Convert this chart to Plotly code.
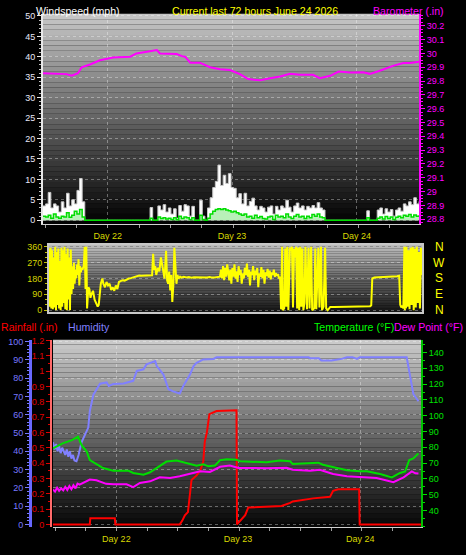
"""
72-hour weather station chart: wind + barometer, wind direction,
rainfall / humidity / temperature / dew point.
"""

import plotly.graph_objects as go

FONT = "Liberation Sans, Arial, sans-serif"
GRID = "rgba(255,255,255,0.35)"

# time axis is hours since start of the 72 h window
DAY_TICKS = [12.4, 36.2, 60.1]
DAY_LABELS = ["Day 22", "Day 23", "Day 24"]

# ---- top panel: windspeed (mph) + barometer (in) ----
WIND_HOURS = [i * 0.5 for i in range(145)]
WIND_GUST = [
    3.5, 4.0, 6.8, 3.0, 4.0, 3.5, 2.0, 4.5, 3.0, 6.6,
    3.5, 5.0, 4.0, 7.3, 10.2, 4.5, 0, 0, 0, 0,
    0, 0, 0, 0, 0, 0, 0, 0, 0, 0,
    0, 0, 0, 0, 0, 0, 0, 0, 0, 0,
    0, 3.1, 0, 0, 3.5, 2.5, 3.8, 2.0, 3.0, 1.5,
    2.8, 0.5, 3.6, 2.2, 3.8, 3.5, 1.0, 3.4, 0, 0,
    4.9, 1.0, 0, 3.0, 5.5, 8.0, 9.5, 13.5, 8.5, 11.0,
    9.0, 11.4, 8.0, 7.8, 5.5, 6.5, 4.0, 6.6, 3.5, 4.6,
    5.4, 3.5, 2.5, 3.4, 3.0, 2.0, 3.2, 3.5, 1.5, 3.4,
    2.5, 3.5, 3.0, 4.9, 3.2, 2.0, 3.5, 4.2, 3.0, 3.5,
    2.5, 3.4, 3.0, 3.6, 3.0, 4.3, 3.0, 2.5, 0, 0,
    0, 0, 0, 0, 0, 0, 0, 0, 0, 0,
    0, 0, 0, 0, 2.3, 0, 0, 0, 2.5, 3.0,
    1.5, 2.8, 2.0, 2.6, 1.0, 2.5, 3.0, 2.2, 4.0, 3.5,
    4.5, 3.8, 5.5, 4.0, 4.6,
]
WIND_AVG = [
    1.0, 0.8, 1.2, 0.5, 1.5, 0.8, 0.5, 1.0, 0.8, 1.8,
    0.7, 1.2, 2.2, 1.5, 2.6, 0.8, 0, 0, 0, 0,
    0, 0, 0, 0, 0, 0, 0, 0, 0, 0,
    0, 0, 0, 0, 0, 0, 0, 0, 0, 0,
    0, 0.5, 0, 0, 0.8, 0.4, 0.6, 0.3, 0.5, 0.2,
    0.6, 0.1, 1.0, 0.4, 0.8, 0.6, 0.2, 0.6, 0, 0,
    1.2, 0.2, 0, 0.5, 1.5, 2.2, 2.6, 2.8, 2.6, 2.8,
    2.5, 2.3, 2.0, 2.2, 1.8, 1.5, 1.2, 1.5, 0.8, 1.0,
    0.5, 1.2, 0.6, 0.9, 0.4, 0.3, 0.8, 1.0, 0.2, 1.2,
    0.8, 1.0, 0.6, 1.5, 0.8, 0.4, 1.0, 1.4, 0.8, 1.0,
    0.4, 1.0, 0.6, 1.4, 1.0, 1.5, 0.8, 0.6, 0, 0,
    0, 0, 0, 0, 0, 0, 0, 0, 0, 0,
    0, 0, 0, 0, 0.6, 0, 0, 0, 0.5, 0.8,
    0.3, 0.9, 0.4, 0.8, 0.2, 0.7, 1.0, 0.6, 1.2, 1.0,
    1.4, 0.8, 1.3, 1.0, 1.2,
]
BARO_HOURS = [
    0, 4.5, 5.5, 6.7, 7.4, 9, 10.9, 13.4, 16.7, 17.9,
    19.9, 21.8, 22.4, 25.6, 26.6, 27.2, 28.2, 30, 32, 33.9,
    35.8, 37.7, 39.3, 41.6, 43.5, 45.4, 47.3, 49.2, 51.7, 53,
    55, 56.6, 58.8, 61.3, 62.6, 64.5, 67, 69, 70.3, 72,
]
BARO = [
    29.857, 29.85, 29.838, 29.857, 29.9, 29.92, 29.95, 29.97, 29.976, 30.0,
    30.012, 30.024, 30.0, 29.995, 29.98, 29.976, 29.933, 29.933, 29.9, 29.886,
    29.88, 29.85, 29.814, 29.805, 29.82, 29.833, 29.852, 29.845, 29.845, 29.82,
    29.838, 29.869, 29.862, 29.864, 29.852, 29.874, 29.91, 29.93, 29.93, 29.94,
]
WIND_TICKS = [0, 5, 10, 15, 20, 25, 30, 35, 40, 45, 50]
BARO_TICKS = [28.8, 28.9, 29.0, 29.1, 29.2, 29.3, 29.4, 29.5, 29.6, 29.7,
              29.8, 29.9, 30.0, 30.1, 30.2]
BARO_TICK_TEXT = ["28.8", "28.9", "29", "29.1", "29.2", "29.3", "29.4", "29.5",
                  "29.6", "29.7", "29.8", "29.9", "30", "30.1", "30.2"]

# ---- middle panel: wind direction (deg) ----
WIND_DIR = [
    (0.0, 350), (0.15, 20), (0.3, 355), (0.45, 10), (0.6, 340), (0.75, 5),
    (0.9, 300), (1.05, 15), (1.2, 360), (1.35, 0), (1.5, 330), (1.65, 30),
    (1.8, 350), (1.95, 10), (2.1, 280), (2.25, 0), (2.4, 355), (2.55, 20),
    (2.7, 340), (2.85, 40), (3.0, 360), (3.15, 5), (3.3, 320), (3.45, 0),
    (3.6, 350), (3.75, 60), (3.9, 300), (4.05, 0), (4.2, 345), (4.35, 90),
    (4.5, 250), (4.65, 120), (4.8, 270), (4.95, 150), (5.1, 230), (5.25, 180),
    (5.4, 260), (5.55, 200), (5.7, 290), (5.85, 140), (6.0, 250), (6.15, 215),
    (6.3, 240), (6.45, 230), (6.7, 250), (6.9, 360), (7.05, 120), (7.2, 360),
    (7.35, 10), (7.6, 130), (7.8, 120), (8.0, 70), (8.2, 90), (8.5, 110),
    (8.8, 60), (9.1, 40), (9.4, 20), (9.6, 30), (9.8, 80), (10.0, 150),
    (10.3, 180), (10.5, 150), (10.8, 130), (11.1, 160), (11.4, 140),
    (11.7, 150), (12.0, 115), (12.3, 130), (12.6, 110), (12.9, 140),
    (13.2, 120), (13.5, 160), (13.8, 165), (14.2, 170), (14.6, 168),
    (15.0, 175), (15.4, 180), (15.8, 182), (16.2, 185), (16.6, 190),
    (17.0, 192), (17.4, 197), (17.8, 195), (18.5, 196), (19.2, 198),
    (19.9, 198), (20.1, 320), (20.3, 230), (20.5, 250), (20.7, 200),
    (21.0, 240), (21.3, 220), (21.6, 300), (21.9, 250), (22.1, 200),
    (22.3, 180), (22.6, 337), (22.8, 169), (23.0, 150), (23.2, 220),
    (23.4, 112), (23.6, 200), (23.8, 47), (24.0, 140), (24.2, 355),
    (24.4, 225), (24.6, 150), (24.8, 200), (25.0, 180), (25.3, 190),
    (25.5, 185), (26.0, 190), (26.5, 186), (27.0, 188), (27.5, 184),
    (28.0, 187), (28.5, 186), (29.0, 188), (29.5, 185), (30.0, 187),
    (30.5, 186), (31.0, 189), (31.5, 185), (32.0, 186), (32.5, 188),
    (33.0, 190), (33.2, 230), (33.4, 180), (33.6, 250), (33.8, 170),
    (34.0, 240), (34.2, 190), (34.4, 260), (34.6, 200), (34.8, 170),
    (35.0, 230), (35.2, 150), (35.4, 240), (35.6, 190), (35.8, 260),
    (36.0, 180), (36.2, 220), (36.4, 160), (36.6, 250), (36.8, 200),
    (37.0, 230), (37.2, 150), (37.4, 210), (37.6, 180), (37.8, 240),
    (38.0, 200), (38.2, 265), (38.4, 190), (38.6, 230), (38.8, 140),
    (39.0, 220), (39.2, 200), (39.4, 250), (39.6, 170), (39.8, 225),
    (40.0, 200), (40.2, 240), (40.4, 130), (40.6, 210), (40.8, 190),
    (41.0, 245), (41.2, 180), (41.4, 230), (41.6, 150), (41.8, 215),
    (42.0, 195), (42.2, 235), (42.4, 185), (42.6, 225), (42.8, 175),
    (43.0, 215), (43.2, 200), (43.4, 230), (43.6, 190), (43.8, 210),
    (44.0, 195), (44.2, 205), (44.4, 180), (44.6, 190), (44.8, 5),
    (45.0, 360), (45.1, 0), (45.4, 10), (45.6, 350), (45.8, 20),
    (46.0, 360), (46.2, 0), (46.5, 355), (46.7, 340), (46.9, 360),
    (47.1, 15), (47.3, 350), (47.5, 300), (47.7, 360), (47.9, 10),
    (48.1, 355), (48.3, 0), (48.5, 360), (48.7, 20), (48.9, 350),
    (49.1, 0), (49.3, 40), (49.5, 360), (49.8, 5), (50.1, 355),
    (50.3, 10), (50.6, 360), (50.8, 0), (51.2, 10), (51.4, 350),
    (51.6, 5), (52.0, 355), (52.2, 15), (52.5, 360), (52.7, 0),
    (53.0, 20), (53.3, 355), (53.5, 10), (53.8, 0), (54.0, 5),
    (54.3, 18), (55.0, 18), (56.0, 18), (57.0, 19), (58.0, 19),
    (59.0, 20), (60.0, 20), (61.0, 21), (62.0, 22), (62.2, 28),
    (62.4, 180), (62.8, 185), (63.5, 186), (64.5, 187), (65.5, 188),
    (66.5, 190), (67.2, 193), (67.6, 196), (67.8, 30), (68.0, 15),
    (68.2, 25), (68.4, 10), (68.6, 360), (68.7, 0), (68.8, 350),
    (68.9, 10), (69.0, 360), (69.2, 20), (69.4, 340), (69.6, 5),
    (69.8, 355), (70.0, 30), (70.2, 360), (70.4, 0), (70.6, 350),
    (70.8, 15), (71.0, 360), (71.2, 40), (71.4, 330), (71.6, 10),
    (71.8, 355), (72.0, 200),
]
DIR_TICKS = [0, 90, 180, 270, 360]
COMPASS = ["N", "E", "S", "W", "N"]

# ---- bottom panel ----
HUM_HOURS = [
    0, 0.3, 0.6, 0.9, 1.2, 1.5, 1.8, 2.1, 2.4, 2.7, 3.0, 3.3, 3.6, 3.9, 4.2,
    4.6, 5.0, 5.6, 6.3, 6.9, 7.2, 7.9, 9.2, 10.5, 10.9, 11.8, 13.8, 15.1, 15.7,
    16.4, 17.7, 18.3, 20.0, 20.3, 21.6, 22.6, 23.5, 24.8, 25.5, 26.8, 27.5,
    28.1, 29.4, 31.4, 32.0, 50.0, 50.4, 52.0, 52.5, 54.5, 56.5, 57.5, 58.6,
    59.5, 60.0, 69.2, 69.8, 70.5, 71.5,
]
HUMIDITY = [
    45, 41, 44, 40, 43, 39, 42, 40, 38, 41, 37, 40, 36, 38, 35,
    34.6, 38, 45, 49, 53, 62, 71, 77, 77.7, 75.8, 76.8, 77.1, 78, 78.6,
    84, 84.9, 87.6, 89.4, 86.7, 82, 74, 72.8, 71.7, 75.8, 82, 86.7,
    88.5, 90.3, 90.6, 91.5, 91.5, 90.9, 90.9, 89.7, 89.7, 90.6, 91.5, 91.5,
    90.6, 91.5, 91.5, 82, 71.4, 67.4,
]
RAIN_HOURS = [
    0, 7.2, 7.3, 12.1, 12.2, 24.8, 25.3, 25.8, 26.4, 26.8, 27.1, 28.1, 28.8,
    29.4, 29.7, 30.1, 30.6, 32.0, 35.9, 36.0, 36.3, 37.6, 38.2, 44.7, 46.4,
    46.9, 50.9, 54.2, 54.8, 55.8, 59.9, 60.0, 72,
]
RAIN = [
    0, 0, 0.04, 0.04, 0, 0, 0.025, 0.06, 0.08, 0.195, 0.29, 0.32, 0.35,
    0.41, 0.54, 0.6, 0.72, 0.74, 0.745, 0, 0.01, 0.06, 0.11, 0.12, 0.14,
    0.15, 0.17, 0.18, 0.22, 0.23, 0.23, 0, 0,
]
TEMP_HOURS = [
    0, 1.9, 3.7, 4.9, 5.6, 6.6, 7.2, 8.2, 9.8, 11.8, 13.1, 14.8, 15.7, 17.7,
    19.0, 20.3, 22.2, 24.2, 26.2, 28.1, 29.4, 30.4, 31.7, 32.7, 34.0, 35.9,
    36.6, 41.8, 44.4, 46.4, 46.9, 49.6, 51.9, 52.8, 54.8, 57.5, 60.1, 61.4,
    64.0, 66.3, 67.9, 68.9, 69.7, 70.5, 71.5,
]
TEMP = [
    79.4, 82.5, 84.6, 86.7, 81.4, 77.3, 72.0, 70.0, 66.9, 65.2, 65.0, 65.2,
    63.8, 62.7, 64.2, 67.0, 71.0, 71.6, 69.8, 68.3, 69.3, 68.0, 68.5, 71.9,
    72.5, 72.2, 71.2, 70.5, 71.7, 71.2, 69.4, 69.8, 70.3, 69.0, 67.3, 65.5,
    64.8, 64.8, 63.1, 61.0, 63.8, 64.8, 72.0, 73.0, 76.2,
]
DEW_HOURS = [
    0, 0.4, 0.8, 1.2, 1.6, 2.0, 2.4, 2.8, 3.2, 3.6, 4.0, 4.4, 4.8, 5.2, 7.2,
    8.5, 10.4, 11.8, 14.4, 15.7, 17.0, 19.0, 20.9, 22.9, 24.8, 26.8, 28.8,
    30.7, 31.7, 32.7, 34.6, 36.3, 41.8, 45.7, 46.9, 50.3, 52.2, 54.8, 57.5,
    60.1, 63.3, 65.3, 66.6, 68.6, 70.2, 70.9, 71.5,
]
DEW = [
    53.3, 52.0, 54.5, 52.5, 54.0, 52.8, 55.0, 53.0, 55.5, 53.5, 56.0, 54.0,
    57.0, 56.4, 59.6, 59.2, 56.9, 56.6, 56.6, 54.8, 57.5, 58.5, 61.0, 60.6,
    61.7, 63.1, 64.8, 64.4, 65.8, 67.7, 68.5, 67.0, 66.8, 67.1, 65.8, 65.2,
    65.8, 63.1, 61.7, 61.1, 60.6, 59.0, 58.0, 61.0, 64.8, 63.6, 63.4,
]
HUM_TICKS = [0, 10, 20, 30, 40, 50, 60, 70, 80, 90, 100]
RAIN_TICKS = [0, 0.1, 0.2, 0.3, 0.4, 0.5, 0.6, 0.7, 0.8, 0.9, 1.0, 1.1, 1.2]
RAIN_TICK_TEXT = ["0", "0.1", "0.2", "0.3", "0.4", "0.5", "0.6", "0.7",
                  "0.8", "0.9", "1", "1.1", "1.2"]
TEMP_TICKS = [40, 50, 60, 70, 80, 90, 100, 110, 120, 130, 140]


def add_gradient(fig, xref, yref, top, bottom, steps=40):
    """Stepped grey gradient behind a subplot (bottom -> top)."""
    for i in range(steps):
        t = (i + 0.5) / steps
        c = int(bottom + (top - bottom) * t)
        fig.add_shape(
            type="rect", xref=f"{xref} domain", yref=f"{yref} domain",
            x0=0, x1=1, y0=i / steps, y1=(i + 1) / steps,
            fillcolor=f"rgb({c},{c},{c})", line=dict(width=0), layer="below",
        )


def px_x(x):
    return x / 466


def px_y(y):
    return 1 - y / 555


fig = go.Figure()

# top panel
fig.add_trace(go.Scatter(
    x=WIND_HOURS, y=WIND_GUST, mode="lines",
    line=dict(color="#c8c8c8", width=1, shape="hv"),
    fill="tozeroy", fillcolor="#ffffff", xaxis="x", yaxis="y",
))
fig.add_trace(go.Scatter(
    x=WIND_HOURS, y=WIND_AVG, mode="lines",
    line=dict(color="#00dd00", width=1.5, shape="hv"),
    fill="tozeroy", fillcolor="#b8f0b8", xaxis="x", yaxis="y",
))
fig.add_trace(go.Scatter(
    x=BARO_HOURS, y=BARO, mode="lines",
    line=dict(color="#ff00ff", width=2), xaxis="x", yaxis="y2",
))

# middle panel
fig.add_trace(go.Scatter(
    x=[p[0] for p in WIND_DIR], y=[p[1] for p in WIND_DIR], mode="lines",
    line=dict(color="#ffff00", width=2), xaxis="x2", yaxis="y3",
))

# bottom panel
fig.add_trace(go.Scatter(
    x=HUM_HOURS, y=HUMIDITY, mode="lines",
    line=dict(color="#8080ff", width=2), xaxis="x3", yaxis="y4",
))
fig.add_trace(go.Scatter(
    x=RAIN_HOURS, y=RAIN, mode="lines",
    line=dict(color="#ff0000", width=2), xaxis="x3", yaxis="y5",
))
fig.add_trace(go.Scatter(
    x=TEMP_HOURS, y=TEMP, mode="lines",
    line=dict(color="#00dd00", width=2), xaxis="x3", yaxis="y6",
))
fig.add_trace(go.Scatter(
    x=DEW_HOURS, y=DEW, mode="lines",
    line=dict(color="#ff00ff", width=2), xaxis="x3", yaxis="y6",
))

add_gradient(fig, "x", "y", 200, 0)
add_gradient(fig, "x2", "y3", 190, 20)
add_gradient(fig, "x3", "y4", 205, 5)

day_axis = dict(
    range=[0, 72], tickvals=DAY_TICKS, ticktext=DAY_LABELS,
    tickfont=dict(color="#d8d800", size=9), ticklabelstandoff=3,
    showgrid=True, gridcolor=GRID, griddash="dot", zeroline=False,
    showline=True, linecolor="#d0d0d0", linewidth=1, ticks="",
    minor=dict(tick0=0.4, dtick=6, ticks="outside", ticklen=3,
               tickcolor="#a0a0a0", showgrid=False),
)

fig.update_layout(
    width=466, height=555,
    margin=dict(l=0, r=0, t=0, b=0),
    paper_bgcolor="#000000", plot_bgcolor="#000000",
    showlegend=False,
    font=dict(family=FONT, size=9),
    xaxis=dict(domain=[px_x(43), px_x(419)], anchor="y", **day_axis),
    yaxis=dict(
        domain=[px_y(223), px_y(10)], anchor="x", range=[-0.97, 50.5],
        tickvals=WIND_TICKS, tickfont=dict(color="#e8e8f8", size=9),
        showline=True, linecolor="#e8e8e8", linewidth=2,
        ticks="outside", ticklen=4, tickcolor="#e8e8e8",
        minor=dict(dtick=1, ticks="outside", ticklen=2, tickcolor="#c0c0c0"),
        showgrid=True, gridcolor=GRID, griddash="dot", zeroline=False,
    ),
    yaxis2=dict(
        overlaying="y", side="right", anchor="x", range=[28.764, 30.286],
        tickvals=BARO_TICKS, ticktext=BARO_TICK_TEXT,
        tickfont=dict(color="#ff00ff", size=9),
        showline=True, linecolor="#ff00ff", linewidth=2,
        ticks="outside", ticklen=4, tickcolor="#ff00ff",
        minor=dict(dtick=0.025, ticks="outside", ticklen=2, tickcolor="#ff00ff"),
        showgrid=False, zeroline=False,
    ),
    xaxis2=dict(
        domain=[px_x(49), px_x(422)], anchor="y3", range=[0, 72],
        showticklabels=False, showgrid=False, zeroline=False,
        showline=True, mirror=True, linecolor="#c8c8c8", linewidth=2,
    ),
    yaxis3=dict(
        domain=[px_y(312), px_y(244)], anchor="x2", range=[-11, 371],
        tickvals=DIR_TICKS, tickfont=dict(color="#d4d400", size=9),
        showline=True, mirror=True, linecolor="#c8c8c8", linewidth=2,
        ticks="outside", ticklen=3, tickcolor="#c0c000",
        minor=dict(dtick=30, ticks="outside", ticklen=2, tickcolor="#c0c000"),
        showgrid=True, gridcolor=GRID, griddash="dot", zeroline=False,
    ),
    xaxis3=dict(domain=[px_x(53), px_x(421)], anchor="y4", **day_axis),
    yaxis4=dict(
        domain=[px_y(530), px_y(340)], anchor="free", position=px_x(30),
        side="left", range=[-1.6, 101.1], tickvals=HUM_TICKS,
        tickfont=dict(color="#7878ff", size=9),
        showline=True, linecolor="#6868ff", linewidth=3,
        ticks="outside", ticklen=4, tickcolor="#7878ff",
        minor=dict(dtick=2, ticks="outside", ticklen=2, tickcolor="#7878ff"),
        showgrid=True, gridcolor=GRID, griddash="dot", zeroline=False,
    ),
    yaxis5=dict(
        overlaying="y4", anchor="free", position=px_x(51), side="left",
        range=[-0.019, 1.206], tickvals=RAIN_TICKS, ticktext=RAIN_TICK_TEXT,
        tickfont=dict(color="#e00000", size=9),
        showline=True, linecolor="#ff6a6a", linewidth=2,
        ticks="outside", ticklen=4, tickcolor="#e00000",
        minor=dict(dtick=0.05, ticks="outside", ticklen=2, tickcolor="#e00000"),
        showgrid=False, zeroline=False,
    ),
    yaxis6=dict(
        overlaying="y4", anchor="x3", side="right", range=[29.4, 148.1],
        tickvals=TEMP_TICKS, tickfont=dict(color="#00e000", size=9),
        showline=True, linecolor="#00c000", linewidth=2,
        ticks="outside", ticklen=4, tickcolor="#00e000",
        minor=dict(dtick=5, ticks="outside", ticklen=2, tickcolor="#00e000"),
        showgrid=False, zeroline=False,
    ),
)

titles = [
    ("Windspeed (mph)", 35, 7, "#ffffff", "left"),
    ("Current last 72 hours June 24 2026", 255, 7, "#ffff00", "center"),
    ("Barometer (.in)", 372, 7, "#ff00ff", "left"),
    ("Rainfall (.in)", 0, 327, "#ff0000", "left"),
    ("Humidity", 67, 327, "#8080ff", "left"),
    ("Temperature (°F)", 313, 327, "#00ff00", "left"),
    ("Dew Point (°F)", 393, 327, "#ff00ff", "left"),
]
for text, x, y, color, anchor in titles:
    fig.add_annotation(
        text=text, x=px_x(x), y=px_y(y), xref="paper", yref="paper",
        xanchor=anchor, yanchor="middle", showarrow=False, borderpad=0,
        font=dict(family=FONT, size=10.6, color=color),
    )

for deg, letter in zip(DIR_TICKS, COMPASS):
    fig.add_annotation(
        text=letter, x=px_x(439), y=deg, xref="paper", yref="y3",
        xanchor="center", yanchor="middle", showarrow=False,
        font=dict(family=FONT, size=12, color="#ffff00"),
    )

# the page's default 8px body margin would shift the 466x555 figure
fig.write_html(
    "out.html",
    config={"displayModeBar": False},
    post_script="document.body.style.margin='0';",
)
